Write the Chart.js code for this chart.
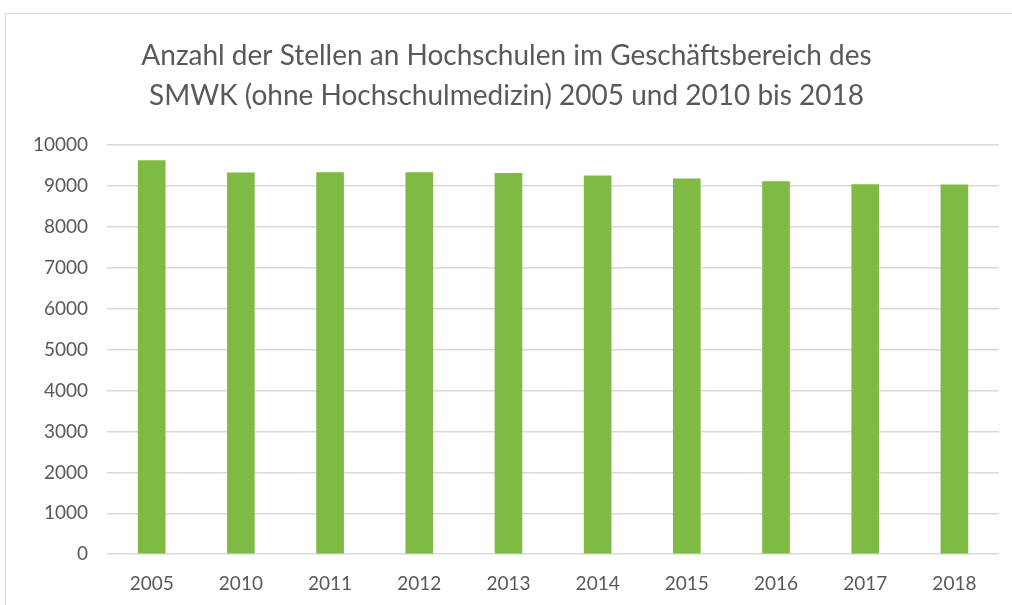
<!DOCTYPE html>
<html>
<head>
<meta charset="utf-8">
<script src="https://cdn.jsdelivr.net/npm/chart.js@4/dist/chart.umd.min.js"></script>
<style>
  html, body { margin: 0; padding: 0; background: #fff; }
  #wrap { position: absolute; left: 5px; top: 13px; width: 1007px; height: 592px;
          border-left: 1px solid #d9d9d9; border-top: 1px solid #d9d9d9; box-sizing: border-box; }
  canvas { display: block; }
</style>
</head>
<body>
<div id="wrap"><canvas id="chart" width="1006" height="591"></canvas></div>
<script>
// Stellen an Hochschulen (SMWK, ohne Hochschulmedizin)
const years = ['2005', '2010', '2011', '2012', '2013', '2014', '2015', '2016', '2017', '2018'];
const stellen = [9631, 9329, 9337, 9337, 9320, 9255, 9182, 9115, 9042, 9034];
const titleLines = [
    'Anzahl der Stellen an Hochschulen im Geschäftsbereich des',
    'SMWK (ohne Hochschulmedizin) 2005 und 2010 bis 2018'
];

const fontName = 'Lato, "Open Sans", sans-serif';
const textColor = '#595959';

new Chart(document.getElementById('chart'), {
    type: 'bar',
    data: {
        labels: years,
        datasets: [{
            label: 'Stellen',
            data: stellen,
            backgroundColor: '#7fba45',
            borderWidth: 0,
            categoryPercentage: 1,
            barPercentage: 0.31,
        }]
    },
    options: {
        responsive: false,
        animation: false,
        layout: { padding: { left: 8, right: 13, top: 0, bottom: 0 } },
        plugins: {
            legend: { display: false },
            tooltip: { enabled: false },
            title: {
                display: true,
                text: titleLines,
                color: textColor,
                font: { family: fontName, size: 28, weight: 'normal', lineHeight: 1.43 },
                padding: { top: 22, bottom: 29 }
            }
        },
        scales: {
            x: {
                grid: { display: false },
                border: { display: false },
                ticks: { color: textColor, font: { family: fontName, size: 19 }, padding: 10 }
            },
            y: {
                min: 0,
                max: 10000,
                ticks: {
                    stepSize: 1000,
                    color: textColor,
                    font: { family: fontName, size: 19 },
                    padding: 19,
                    callback: v => String(v)
                },
                grid: { color: '#d9d9d9', lineWidth: 1.5, drawTicks: false },
                border: { display: false }
            }
        }
    }
});
</script>
</body>
</html>
